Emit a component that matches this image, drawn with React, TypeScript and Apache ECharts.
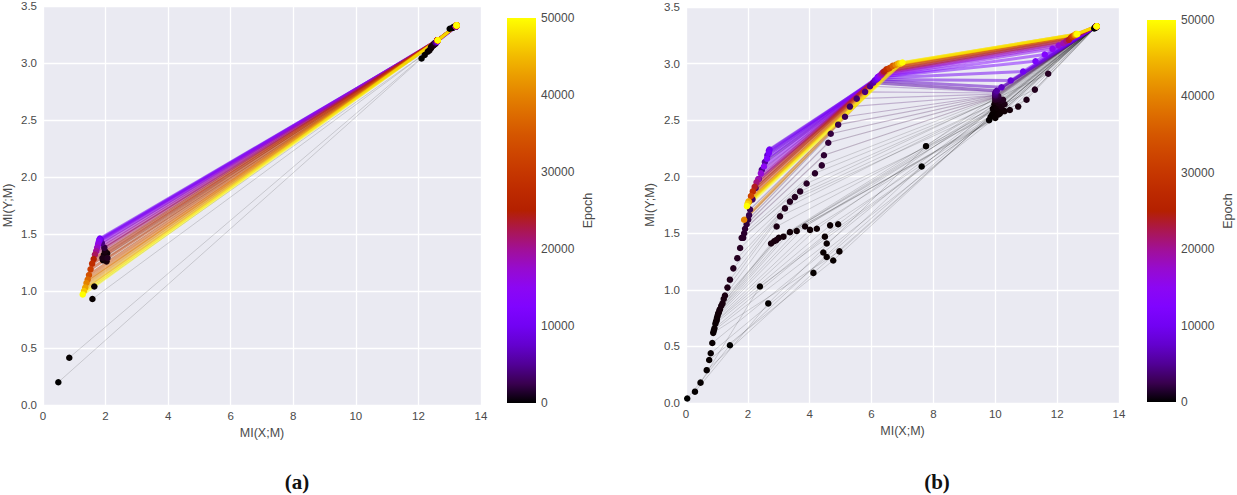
import React, { useEffect, useRef } from 'react';
import * as echarts from 'echarts';

const EPOCH_MAX = 50000;
const EARLY_LIMIT = 1500;
const DARK_LIMIT = 5000;

// ---------- Panel (a) ----------
const aEpochs = [0, 20, 40, 60, 100, 150, 200, 300, 400, 500, 700, 1000, 2000, 4000, 7000, 10000, 12000, 14000, 16000, 18000, 20000, 22000, 25000, 28000, 31000, 34000, 37000, 40000, 43000, 46000, 50000];
const aLayer1 = [[13.0, 3.3], [13.1, 3.31], [13.1, 3.31], [13.15, 3.32], [13.2, 3.32], [13.2, 3.32], [13.2, 3.32], [13.2, 3.32], [13.2, 3.32], [13.2, 3.32], [13.2, 3.32], [13.2, 3.32], [13.2, 3.32], [13.2, 3.32], [13.2, 3.32], [13.2, 3.32], [13.2, 3.32], [13.2, 3.32], [13.2, 3.32], [13.2, 3.32], [13.2, 3.32], [13.2, 3.32], [13.22, 3.33], [13.22, 3.33], [13.22, 3.33], [13.22, 3.33], [13.22, 3.33], [13.22, 3.33], [13.22, 3.33], [13.22, 3.33], [13.22, 3.33]];
const aLayer2 = [[12.1, 3.04], [12.2, 3.07], [12.3, 3.1], [12.35, 3.11], [12.4, 3.13], [12.4, 3.14], [12.45, 3.15], [12.45, 3.15], [12.5, 3.16], [12.5, 3.16], [12.5, 3.17], [12.55, 3.17], [12.55, 3.18], [12.55, 3.18], [12.6, 3.19], [12.6, 3.19], [12.6, 3.19], [12.6, 3.19], [12.6, 3.2], [12.6, 3.2], [12.6, 3.2], [12.6, 3.2], [12.6, 3.2], [12.6, 3.2], [12.6, 3.2], [12.62, 3.2], [12.62, 3.2], [12.62, 3.2], [12.62, 3.2], [12.62, 3.2], [12.62, 3.2]];
const aLayer3 = [[0.49, 0.2], [0.84, 0.415], [1.58, 0.93], [1.64, 1.04], [1.92, 1.27], [2.0, 1.3], [2.05, 1.33], [1.95, 1.32], [2.03, 1.26], [1.98, 1.35], [1.9, 1.29], [2.06, 1.29], [1.96, 1.38], [1.88, 1.42], [1.84, 1.45], [1.82, 1.46], [1.8, 1.45], [1.78, 1.43], [1.76, 1.41], [1.73, 1.38], [1.7, 1.35], [1.66, 1.32], [1.62, 1.28], [1.57, 1.24], [1.52, 1.19], [1.47, 1.14], [1.43, 1.1], [1.39, 1.07], [1.35, 1.03], [1.31, 1.0], [1.27, 0.97]];

// ---------- Panel (b) ----------
const bEpochs = [0, 10, 20, 30, 40, 50, 60, 70, 80, 90, 100, 120, 140, 160, 180, 200, 250, 300, 350, 400, 450, 500, 600, 700, 800, 900, 1000, 1100, 1200, 1300, 1400, 1600, 1800, 2000, 2300, 2600, 3000, 3500, 4000, 4500, 5500, 7000, 8500, 10000, 11500, 13000, 15000, 17000, 19000, 21000, 24000, 28000, 32000, 36000, 40000, 44000, 47000, 50000];
const bLayer1 = [[13.2, 3.31], [13.22, 3.32], [13.24, 3.32], [13.25, 3.32], [13.25, 3.32], [13.26, 3.33], [13.26, 3.33], [13.26, 3.33], [13.27, 3.33], [13.27, 3.33], [13.27, 3.33], [13.27, 3.33], [13.28, 3.33], [13.28, 3.33], [13.28, 3.33], [13.28, 3.33], [13.28, 3.33], [13.28, 3.33], [13.28, 3.33], [13.28, 3.33], [13.28, 3.33], [13.28, 3.33], [13.28, 3.33], [13.28, 3.33], [13.28, 3.33], [13.28, 3.33], [13.28, 3.33], [13.28, 3.33], [13.28, 3.33], [13.28, 3.33], [13.28, 3.33], [13.28, 3.33], [13.28, 3.33], [13.28, 3.33], [13.28, 3.33], [13.28, 3.33], [13.28, 3.33], [13.28, 3.33], [13.28, 3.33], [13.28, 3.33], [13.28, 3.33], [13.28, 3.33], [13.28, 3.33], [13.28, 3.33], [13.28, 3.33], [13.28, 3.33], [13.28, 3.33], [13.28, 3.33], [13.28, 3.33], [13.28, 3.33], [13.28, 3.33], [13.28, 3.33], [13.28, 3.33], [13.28, 3.33], [13.28, 3.33], [13.28, 3.33], [13.28, 3.33], [13.28, 3.33]];
const bLayer2 = [[7.62, 2.09], [7.76, 2.27], [9.8, 2.5], [9.85, 2.53], [9.9, 2.55], [9.95, 2.57], [10.0, 2.52], [10.05, 2.58], [9.92, 2.6], [10.1, 2.55], [10.0, 2.62], [10.15, 2.56], [9.97, 2.64], [10.2, 2.59], [10.05, 2.61], [10.3, 2.58], [10.1, 2.63], [10.47, 2.59], [10.0, 2.66], [10.2, 2.62], [10.74, 2.62], [10.1, 2.65], [10.3, 2.64], [11.01, 2.68], [10.15, 2.67], [11.28, 2.77], [10.25, 2.68], [11.71, 2.91], [10.0, 2.68], [10.1, 2.69], [10.05, 2.7], [10.0, 2.7], [10.1, 2.71], [10.0, 2.71], [10.05, 2.72], [10.0, 2.72], [10.0, 2.72], [10.0, 2.73], [10.0, 2.74], [10.02, 2.75], [10.05, 2.76], [10.2, 2.79], [10.5, 2.85], [10.9, 2.93], [11.3, 3.02], [11.6, 3.08], [11.85, 3.13], [12.05, 3.16], [12.2, 3.18], [12.3, 3.2], [12.38, 3.21], [12.45, 3.23], [12.5, 3.24], [12.55, 3.25], [12.58, 3.25], [12.6, 3.26], [12.62, 3.26], [12.65, 3.26]];
const bLayer3 = [[1.42, 0.51], [2.66, 0.88], [2.39, 1.03], [4.12, 1.15], [4.76, 1.26], [4.55, 1.29], [4.44, 1.33], [4.96, 1.34], [4.55, 1.41], [4.49, 1.47], [4.92, 1.58], [4.66, 1.57], [4.23, 1.54], [4.01, 1.53], [3.85, 1.56], [3.58, 1.52], [3.36, 1.51], [3.15, 1.47], [3.0, 1.46], [2.85, 1.43], [2.75, 1.41], [2.92, 1.44], [2.93, 1.56], [3.04, 1.65], [3.2, 1.72], [3.36, 1.78], [3.52, 1.82], [3.69, 1.87], [3.9, 1.94], [4.17, 2.03], [4.39, 2.1], [4.46, 2.19], [4.6, 2.3], [4.68, 2.38], [4.92, 2.46], [5.14, 2.53], [5.3, 2.62], [5.52, 2.69], [5.79, 2.75], [5.95, 2.8], [6.05, 2.83], [6.1, 2.85], [6.15, 2.86], [6.2, 2.87], [6.2, 2.88], [6.22, 2.88], [6.25, 2.89], [6.3, 2.9], [6.33, 2.91], [6.36, 2.92], [6.4, 2.93], [6.48, 2.95], [6.58, 2.96], [6.68, 2.98], [6.78, 2.99], [6.86, 3.0], [6.93, 3.0], [7.0, 3.01]];
const bLayer4 = [[0.04, 0.04], [0.29, 0.1], [0.47, 0.18], [0.67, 0.29], [0.75, 0.38], [0.8, 0.44], [0.85, 0.53], [0.88, 0.62], [0.9, 0.64], [0.92, 0.66], [0.95, 0.7], [0.97, 0.72], [0.99, 0.73], [1.0, 0.75], [1.02, 0.77], [1.04, 0.79], [1.06, 0.8], [1.08, 0.82], [1.1, 0.83], [1.14, 0.86], [1.18, 0.88], [1.22, 0.92], [1.26, 0.95], [1.34, 1.02], [1.42, 1.09], [1.53, 1.19], [1.66, 1.28], [1.75, 1.37], [1.8, 1.46], [1.85, 1.46], [1.88, 1.5], [1.91, 1.54], [1.96, 1.58], [2.01, 1.62], [2.04, 1.66], [2.07, 1.71], [2.15, 1.8], [2.25, 1.9], [2.35, 1.98], [2.45, 2.06], [2.55, 2.13], [2.63, 2.19], [2.68, 2.23], [2.7, 2.24], [2.68, 2.21], [2.62, 2.16], [2.52, 2.09], [2.42, 2.03], [2.34, 1.98], [2.28, 1.95], [2.22, 1.91], [2.16, 1.87], [2.1, 1.83], [2.04, 1.78], [1.88, 1.62], [2.02, 1.78], [1.99, 1.76], [1.97, 1.74]];

// ---------- styling helpers ----------
const FONT = '"Liberation Sans", Arial, sans-serif';
const TEXT = '#4a4a4a';

function gnuplot(t: number, a: number): string {
  const r = Math.sqrt(t);
  const g = t * t * t;
  const b = Math.max(0, Math.sin(2 * Math.PI * t));
  return `rgba(${Math.round(r * 255)},${Math.round(g * 255)},${Math.round(b * 255)},${a})`;
}

function gradientStops() {
  const stops: { offset: number; color: string }[] = [];
  for (let i = 0; i <= 20; i++) stops.push({ offset: i / 20, color: gnuplot(i / 20, 1) });
  return stops;
}

function lineLook(ep: number) {
  const t = ep / EPOCH_MAX;
  if (ep < EARLY_LIMIT) return { color: 'rgba(0,0,0,0.15)', width: 1 };
  if (ep < DARK_LIMIT) return { color: gnuplot(t, 0.25), width: 1.2 };
  return { color: gnuplot(t, 0.5), width: 3 };
}

function epochSeries(epochs: number[], layers: number[][][], axisIndex: number) {
  return epochs.map((ep, i) => ({
    type: 'line',
    xAxisIndex: axisIndex,
    yAxisIndex: axisIndex,
    data: layers.map((L) => L[i]),
    symbol: 'circle',
    symbolSize: 6.5,
    showSymbol: true,
    silent: true,
    lineStyle: lineLook(ep),
    itemStyle: { color: gnuplot(ep / EPOCH_MAX, 1) },
    z: 2,
  }));
}

function plotAxes(gridIndex: number) {
  const x = {
    gridIndex, type: 'value', min: 0, max: 14, interval: 2,
    axisLine: { show: false }, axisTick: { show: false },
    splitLine: { show: true, lineStyle: { color: '#ffffff', width: 1.3 } },
    axisLabel: { color: TEXT, fontSize: 11.5, fontFamily: FONT, margin: 5 },
    name: 'MI(X;M)', nameLocation: 'middle', nameGap: 20,
    nameTextStyle: { color: TEXT, fontSize: 12.5, fontFamily: FONT },
  };
  const y = {
    gridIndex, type: 'value', min: 0, max: 3.5, interval: 0.5,
    axisLine: { show: false }, axisTick: { show: false },
    splitLine: { show: true, lineStyle: { color: '#ffffff', width: 1.3 } },
    axisLabel: { color: TEXT, fontSize: 11.5, fontFamily: FONT, margin: 6, formatter: (v: number) => v.toFixed(1) },
    name: 'MI(Y;M)', nameLocation: 'middle', nameGap: 29,
    nameTextStyle: { color: TEXT, fontSize: 12.5, fontFamily: FONT },
  };
  return { x, y };
}

function colorbarAxes(gridIndex: number) {
  const x = { gridIndex, type: 'category', data: ['epoch'], show: false };
  const y = {
    gridIndex, type: 'value', min: 0, max: EPOCH_MAX, interval: 10000, position: 'right',
    axisLine: { show: false }, axisTick: { show: false }, splitLine: { show: false },
    axisLabel: { color: TEXT, fontSize: 12, fontFamily: FONT, margin: 5, formatter: (v: number) => String(v) },
    name: 'Epoch', nameLocation: 'middle', nameGap: 45, nameRotate: 90,
    nameTextStyle: { color: TEXT, fontSize: 12.5, fontFamily: FONT },
  };
  return { x, y };
}

export default function App() {
  const ref = useRef<HTMLDivElement>(null);
  useEffect(() => {
    if (!ref.current) return;
    const chart = echarts.init(ref.current, undefined, { renderer: 'svg' });
    const pa = plotAxes(0);
    const ca = colorbarAxes(1);
    const pb = plotAxes(2);
    const cb = colorbarAxes(3);
    pb.y.nameGap = 30;
    const grad = () => new echarts.graphic.LinearGradient(0, 1, 0, 0, gradientStops());
    chart.setOption({
      animation: false,
      backgroundColor: '#ffffff',
      grid: [
        { left: 43, top: 6, width: 438, height: 399, show: true, backgroundColor: '#EAEAF2', borderWidth: 0 },
        { left: 507, top: 18, width: 29, height: 385, show: false },
        { left: 686, top: 7, width: 433, height: 396, show: true, backgroundColor: '#EAEAF2', borderWidth: 0 },
        { left: 1147, top: 20, width: 29, height: 382, show: false },
      ],
      xAxis: [pa.x, ca.x, pb.x, cb.x],
      yAxis: [pa.y, ca.y, pb.y, cb.y],
      series: [
        { type: 'bar', xAxisIndex: 1, yAxisIndex: 1, data: [EPOCH_MAX], barWidth: '100%', silent: true, itemStyle: { color: grad() } },
        { type: 'bar', xAxisIndex: 3, yAxisIndex: 3, data: [EPOCH_MAX], barWidth: '100%', silent: true, itemStyle: { color: grad() } },
        ...epochSeries(aEpochs, [aLayer1, aLayer2, aLayer3], 0),
        ...epochSeries(bEpochs, [bLayer1, bLayer2, bLayer3, bLayer4], 2),
      ],
      graphic: [
        { type: 'text', x: 297, y: 482, style: { text: '(a)', font: 'bold 21px "Liberation Serif", serif', fill: '#111', align: 'center', verticalAlign: 'middle' } },
        { type: 'text', x: 937, y: 482, style: { text: '(b)', font: 'bold 21px "Liberation Serif", serif', fill: '#111', align: 'center', verticalAlign: 'middle' } },
      ],
    } as any);
    return () => chart.dispose();
  }, []);
  return <div ref={ref} style={{ position: 'absolute', left: 0, top: 0, width: 1237, height: 495 }} />;
}
